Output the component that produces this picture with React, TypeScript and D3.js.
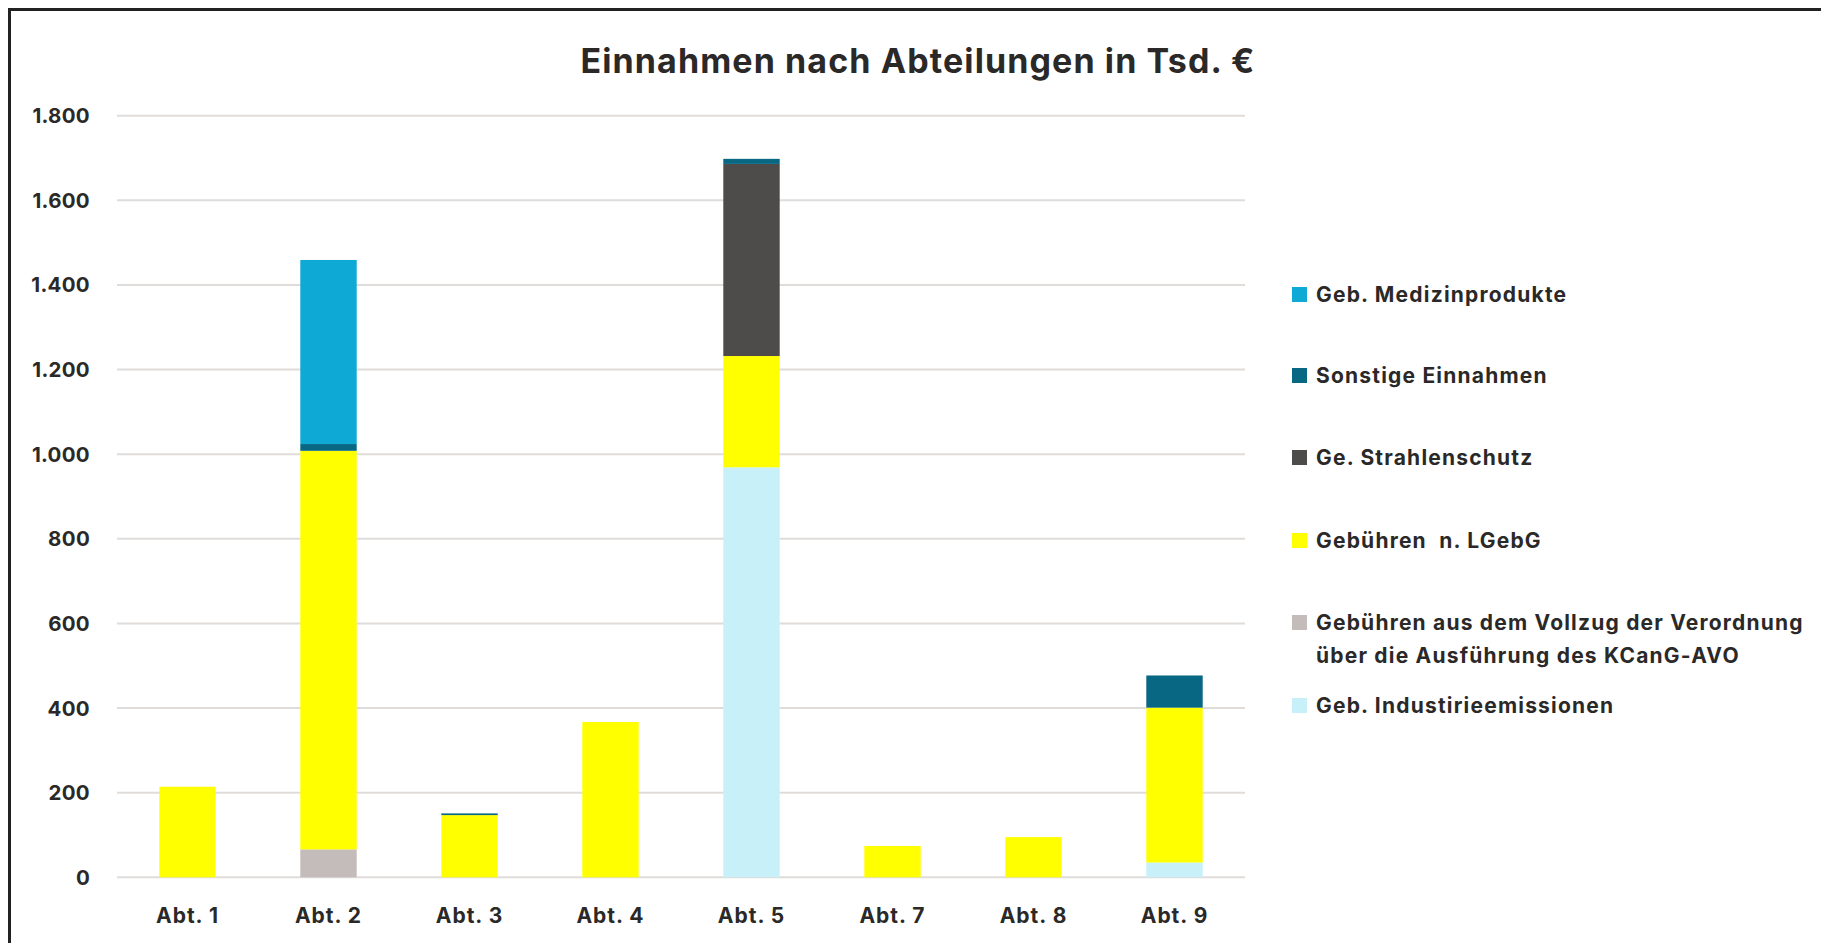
import React from 'react';
import * as d3 from 'd3';

const categories = ['Abt. 1', 'Abt. 2', 'Abt. 3', 'Abt. 4', 'Abt. 5', 'Abt. 7', 'Abt. 8', 'Abt. 9'];

// stacked bottom -> top
const industrie = [0, 0, 0, 0, 969, 0, 0, 35];
const kcang = [0, 66, 0, 0, 0, 0, 0, 0];
const lgebg = [214, 942, 147, 367, 263, 74, 95, 366];
const strahlenschutz = [0, 0, 0, 0, 454, 0, 0, 0];
const sonstige = [0, 16, 4, 0, 12, 0, 0, 76];
const medizin = [0, 435, 0, 0, 0, 0, 0, 0];

const yTicks = [0, 200, 400, 600, 800, 1000, 1200, 1400, 1600, 1800];

const series = [
  { key: 'industrie', label: ['Geb. Industirieemissionen'], values: industrie, color: '#C8F0F9' },
  { key: 'kcang', label: ['Gebühren aus dem Vollzug der Verordnung', 'über die Ausführung des KCanG-AVO'], values: kcang, color: '#C4BCBA' },
  { key: 'lgebg', label: ['Gebühren  n. LGebG'], values: lgebg, color: '#FFFF00' },
  { key: 'strahlen', label: ['Ge. Strahlenschutz'], values: strahlenschutz, color: '#4D4C4B' },
  { key: 'sonstige', label: ['Sonstige Einnahmen'], values: sonstige, color: '#086782' },
  { key: 'medizin', label: ['Geb. Medizinprodukte'], values: medizin, color: '#0EA9D5' },
];

const W = 1821;
const H = 943;
const font = 'Inter, "Noto Sans", sans-serif';
const textColor = '#2b2928';

const de = d3.formatLocale({ decimal: ',', thousands: '.', grouping: [3], currency: ['', ' €'] });
const fmt = de.format(',d');

export default function App() {
  const x = d3.scaleBand<string>().domain(categories).range([117, 1245]).paddingInner(0.6).paddingOuter(0.3);
  const y = d3.scaleLinear().domain([0, 1800]).range([877.3, 115.7]);

  const rows = categories.map((c, i) => {
    const r: any = { cat: c };
    series.forEach((s) => (r[s.key] = s.values[i]));
    return r;
  });
  const stacked = d3.stack().keys(series.map((s) => s.key))(rows);

  const legendTops = [287, 368, 450, 533, 615, 698];
  const legendItems = series.slice().reverse();

  return (
    <svg width={W} height={H} style={{ position: 'absolute', left: 0, top: 0, background: '#fff' }}>
      <rect x={9.5} y={9.5} width={W + 100} height={H + 100} fill="#fff" stroke="#222" strokeWidth={3} />

      <text x={918} y={73} textAnchor="middle" fontFamily={font} fontWeight={700} fontSize={34} letterSpacing={1.1} fill={textColor}>
        Einnahmen nach Abteilungen in Tsd. €
      </text>

      {yTicks.map((t) => (
        <g key={t}>
          <line x1={117} x2={1245} y1={y(t)} y2={y(t)} stroke="#E0DCDA" strokeWidth={2} />
          <text x={90} y={y(t) + 7.5} textAnchor="end" fontFamily={font} fontWeight={700} fontSize={20.5} letterSpacing={0.3} fill={textColor}>
            {fmt(t)}
          </text>
        </g>
      ))}

      {stacked.map((layer, si) => (
        <g key={layer.key} fill={series[si].color}>
          {layer.map((d, i) =>
            d[1] - d[0] > 0 ? (
              <rect
                key={i}
                x={x(categories[i])}
                width={x.bandwidth()}
                y={y(d[1])}
                height={y(d[0]) - y(d[1])}
              />
            ) : null
          )}
        </g>
      ))}

      {categories.map((c) => (
        <text
          key={c}
          x={(x(c) as number) + x.bandwidth() / 2}
          y={923}
          textAnchor="middle"
          fontFamily={font}
          fontWeight={700}
          fontSize={21}
          letterSpacing={1}
          fill={textColor}
        >
          {c}
        </text>
      ))}

      {legendItems.map((s, i) => (
        <g key={s.key}>
          <rect x={1292} y={legendTops[i]} width={15} height={15} fill={s.color} />
          {s.label.map((line, li) => (
            <text
              key={li}
              x={1316}
              y={legendTops[i] + 15 + li * 33}
              fontFamily={font}
              fontWeight={700}
              fontSize={21}
              letterSpacing={1.2}
              fill={textColor}
              style={{ whiteSpace: 'pre' }}
            >
              {line}
            </text>
          ))}
        </g>
      ))}
    </svg>
  );
}
